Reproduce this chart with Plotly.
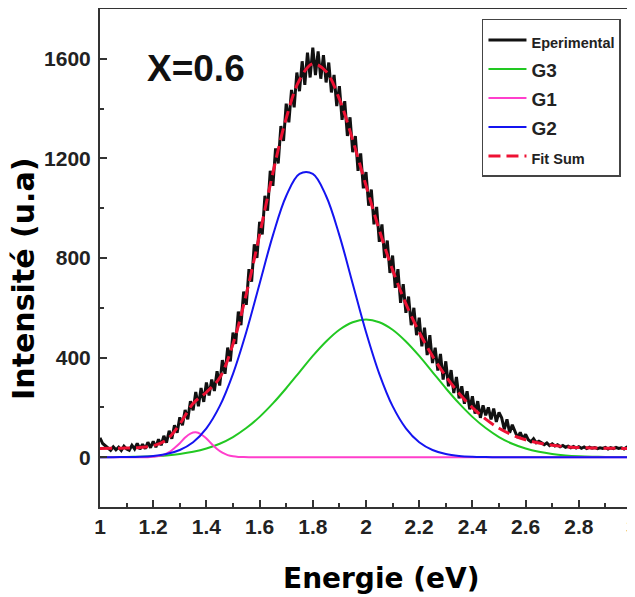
import plotly.graph_objects as go

# ---- data ----
x_fit = [1.00, 1.05, 1.10, 1.15, 1.20, 1.25, 1.30, 1.35, 1.40, 1.45, 1.50, 1.55, 1.60, 1.65,
         1.70, 1.75, 1.80, 1.85, 1.90, 1.95, 2.00, 2.05, 2.10, 2.15, 2.20, 2.25, 2.30, 2.35,
         2.40, 2.45, 2.50, 2.55, 2.60, 2.65, 2.70, 2.75, 2.80, 2.85, 2.90, 2.95, 3.00]

g2_vals = [0, 0.2, 0.7, 1.9, 5.2, 12.8, 29, 60, 116, 205, 335, 503, 697, 891,
           1049, 1138, 1138, 1049, 891, 697, 503, 335, 205, 116, 60, 29, 12.8, 5.2,
           1.9, 0.7, 0, 0, 0, 0, 0, 0, 0, 0, 0, 0, 0]

g3_vals = [0.25, 0.5, 1.1, 2.1, 4.0, 7.3, 12.8, 21.5, 34.7, 54, 81, 117, 162, 216,
           277, 342, 407, 465, 512, 542, 553, 542, 512, 465, 407, 342, 277, 216,
           162, 117, 81, 54, 34.7, 21.5, 12.8, 7.3, 4.0, 2.1, 1.1, 0.5, 0.25]

fit_sum_vals = [35, 36, 37, 39, 46, 70, 133, 216, 261, 319, 455, 655, 894, 1142,
                1361, 1515, 1580, 1549, 1438, 1274, 1091, 912, 752, 616, 502, 406, 325, 256,
                199, 153, 116, 89, 70, 57, 48, 42, 39, 37, 36, 35.5, 35]

x_g1 = [1.00, 1.18, 1.20, 1.22, 1.24, 1.26, 1.28, 1.30, 1.32, 1.34, 1.36, 1.38, 1.40,
        1.42, 1.44, 1.46, 1.48, 1.50, 1.52, 1.54, 1.56, 1.60, 3.00]
g1_vals = [0, 0, 1.6, 4.3, 10, 20, 37, 56, 79, 95, 100, 92, 75,
           53, 33, 18, 8.5, 3.6, 1.3, 0.4, 0, 0, 0]

x_exp = [round(1.0 + 0.01 * i, 2) for i in range(201)]
exp_vals = [
    78, 55, 46, 36, 28, 42,
    30, 40, 27, 44, 33,
    28, 48, 33, 56, 32,
    52, 34, 60, 38, 64,
    40, 72, 48, 86, 58,
    106, 74, 128, 98, 160,
    128, 190, 152, 225, 188,
    262, 205, 278, 222, 300,
    248, 312, 266, 345, 288,
    390, 335, 440, 385, 500,
    455, 585, 530, 665, 612,
    755, 705, 855, 800, 945,
    895, 1050, 990, 1150, 1090,
    1240, 1180, 1330, 1270, 1420,
    1345, 1475, 1405, 1545, 1470,
    1590, 1495, 1625, 1525, 1645,
    1535, 1630, 1520, 1615, 1505,
    1585, 1465, 1535, 1410, 1490,
    1355, 1430, 1290, 1365, 1225,
    1290, 1150, 1220, 1080, 1145,
    1010, 1075, 935, 1005, 865,
    935, 800, 870, 740, 810,
    680, 755, 620, 695, 580,
    645, 530, 600, 490, 560,
    445, 520, 410, 490, 378,
    440, 348, 415, 312, 385,
    285, 350, 258, 322, 236,
    285, 215, 265, 192, 245,
    175, 225, 158, 208, 168,
    200, 152, 195, 142, 180,
    158, 112, 152, 98, 130,
    105, 78, 100, 72, 92,
    70, 62, 74, 58, 64,
    58, 50, 57, 47, 54,
    45, 50, 42, 47, 40,
    44, 38, 43, 37, 42,
    36, 41, 35, 40, 36,
    39, 34, 38, 35, 39,
    33, 38, 34, 39, 35,
    38, 33, 40, 36, 42,
]

x_ticks = [1, 1.2, 1.4, 1.6, 1.8, 2, 2.2, 2.4, 2.6, 2.8, 3]
y_ticks = [0, 400, 800, 1200, 1600]

FONT = "Liberation Sans"
TITLE_FONT = "DejaVu Sans"

fig = go.Figure()
fig.add_trace(go.Scatter(x=x_exp, y=exp_vals, mode="lines",
                         line=dict(color="#111111", width=3),
                         name='<span style="font-size:14.5px">Eperimental</span>'))
fig.add_trace(go.Scatter(x=x_fit, y=g3_vals, mode="lines",
                         line=dict(color="#22c822", width=2, shape="spline"),
                         name='<span style="font-size:19px">G3</span>'))
fig.add_trace(go.Scatter(x=x_g1, y=g1_vals, mode="lines",
                         line=dict(color="#ff3fcc", width=2, shape="spline"),
                         name='<span style="font-size:19px">G1</span>'))
fig.add_trace(go.Scatter(x=x_fit, y=g2_vals, mode="lines",
                         line=dict(color="#1414f0", width=2, shape="spline"),
                         name='<span style="font-size:19px">G2</span>'))
fig.add_trace(go.Scatter(x=x_fit, y=fit_sum_vals, mode="lines",
                         line=dict(color="#ee1133", width=3, dash="12px,6px", shape="spline"),
                         name='<span style="font-size:14.5px">Fit Sum</span>'))

fig.add_annotation(x=0.085, y=0.88, xref="paper", yref="paper", text="X=0.6",
                   showarrow=False, xanchor="left", yanchor="middle",
                   font=dict(family=FONT, size=37, color="#111111", weight="bold"))

# axis titles
fig.add_annotation(x=0.530, y=-0.1426, xref="paper", yref="paper", text="Energie (eV)",
                   showarrow=False, xanchor="center", yanchor="middle",
                   font=dict(family=TITLE_FONT, size=28, color="black", weight="bold"))
fig.add_annotation(x=-0.1429, y=0.458, xref="paper", yref="paper", text="Intensité (u.a)",
                   showarrow=False, xanchor="center", yanchor="middle", textangle=-90,
                   font=dict(family=TITLE_FONT, size=30, color="black", weight="bold"))

fig.update_layout(
    width=627, height=589,
    margin=dict(l=92, r=3, t=1, b=90, autoexpand=False),
    paper_bgcolor="white", plot_bgcolor="white",
    font=dict(family=FONT, color="#111111"),
    showlegend=True,
    legend=dict(x=0.718, y=0.98, xanchor="left", yanchor="top",
                bgcolor="white", bordercolor="#444444", borderwidth=1.5,
                font=dict(family=FONT, size=20, color="#222222", weight="bold"),
                tracegroupgap=0, itemwidth=38),
)
fig.update_xaxes(range=[1, 3], tickvals=x_ticks, ticktext=[str(v) for v in x_ticks],
                 ticks="inside", ticklen=7, tickwidth=1.5, tickcolor="#333333",
                 showline=True, linecolor="#333333", linewidth=2, mirror=True,
                 showgrid=False, zeroline=False, automargin=False,
                 ticklabeloverflow="allow",
                 minor=dict(dtick=0.1, tick0=1, ticks="inside", ticklen=4, tickwidth=1.5, tickcolor="#333333"),
                 tickfont=dict(family=FONT, size=21, color="#222222", weight="bold"))
fig.update_yaxes(range=[-200, 1800], tickvals=y_ticks, ticktext=[str(v) for v in y_ticks],
                 ticks="inside", ticklen=7, tickwidth=1.5, tickcolor="#333333",
                 showline=True, linecolor="#333333", linewidth=2, mirror=True,
                 showgrid=False, zeroline=False, automargin=False,
                 ticklabelstandoff=3,
                 minor=dict(dtick=200, tick0=0, ticks="inside", ticklen=4, tickwidth=1.5, tickcolor="#333333"),
                 tickfont=dict(family=FONT, size=21, color="#222222", weight="bold"))

fig.write_html("out.html")
